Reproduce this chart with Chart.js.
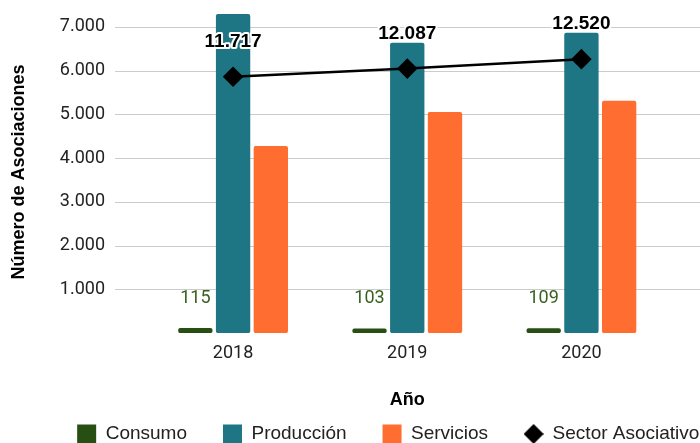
<!DOCTYPE html>
<html>
<head>
<meta charset="utf-8">
<script src="https://cdn.jsdelivr.net/npm/chart.js@4.4.0/dist/chart.umd.min.js"></script>
<style>
  html, body { margin: 0; padding: 0; background: #fff; }
</style>
</head>
<body>
<canvas id="chart" width="700" height="443"></canvas>
<script>
// Data
const years = ["2018", "2019", "2020"];
const consumo = [115, 103, 109];
const produccion = [7290, 6635, 6863];
const servicios = [4275, 5050, 5310];
const sectorAsociativo = [11717, 12087, 12520];
const yTicks = [1000, 2000, 3000, 4000, 5000, 6000, 7000];
const yMax = 7360;

// 7.000 style thousands separator
function fmt(n) {
    return String(n).replace(/\B(?=(\d{3})+(?!\d))/g, ".");
}

// Small diamond used as the legend marker of the line
const diamondIcon = document.createElement("canvas");
diamondIcon.width = 20;
diamondIcon.height = 20;
let dctx = diamondIcon.getContext("2d");
dctx.fillStyle = "#000";
dctx.beginPath();
dctx.moveTo(10, 0);
dctx.lineTo(20, 10);
dctx.lineTo(10, 20);
dctx.lineTo(0, 10);
dctx.closePath();
dctx.fill();

// Gridlines run a bit wider than the plot area, like in the original
const gridLines = {
    id: "gridLines",
    beforeDatasetsDraw(chart) {
        const { ctx, chartArea, scales: { y } } = chart;
        ctx.save();
        ctx.strokeStyle = "#cccccc";
        ctx.lineWidth = 1;
        yTicks.forEach(v => {
            let py = Math.round(y.getPixelForValue(v)) + 0.5;
            ctx.beginPath();
            ctx.moveTo(chartArea.left - 31, py);
            ctx.lineTo(chart.width, py);
            ctx.stroke();
        });
        ctx.restore();
    }
};

// Value labels: consumo above its bars, sector total above the line points
const valueLabels = {
    id: "valueLabels",
    afterDatasetsDraw(chart) {
        const ctx = chart.ctx;
        ctx.save();
        ctx.textAlign = "center";
        ctx.textBaseline = "middle";

        ctx.font = "18px Roboto";
        ctx.fillStyle = "#38611f";
        chart.getDatasetMeta(0).data.forEach((bar, i) => {
            ctx.fillText(fmt(consumo[i]), bar.x, bar.y - 30);
        });

        ctx.font = "bold 19px 'Liberation Sans', Arial, sans-serif";
        ctx.lineJoin = "round";
        chart.getDatasetMeta(3).data.forEach((pt, i) => {
            ctx.lineWidth = 4;
            ctx.strokeStyle = "#ffffff";
            ctx.strokeText(fmt(sectorAsociativo[i]), pt.x, pt.y - 35);
            ctx.fillStyle = "#000000";
            ctx.fillText(fmt(sectorAsociativo[i]), pt.x, pt.y - 35);
        });
        ctx.restore();
    }
};

const barCommon = {
    type: "bar",
    order: 1,
    barPercentage: 0.91,
    categoryPercentage: 0.65,
    borderRadius: 2,
    borderSkipped: false,
    borderWidth: 0,
    yAxisID: "y"
};

new Chart(document.getElementById("chart").getContext("2d"), {
    data: {
        labels: years,
        datasets: [
            { ...barCommon, label: "Consumo", data: consumo, backgroundColor: "#274e13" },
            { ...barCommon, label: "Producción", data: produccion, backgroundColor: "#1e7584" },
            { ...barCommon, label: "Servicios", data: servicios, backgroundColor: "#ff6d31" },
            {
                type: "line",
                order: 0,
                label: "Sector Asociativo",
                data: sectorAsociativo,
                yAxisID: "y2",
                borderColor: "#000000",
                backgroundColor: "#000000",
                borderWidth: 2.5,
                pointStyle: "rectRot",
                pointRadius: 8.5,
                pointHoverRadius: 8.5,
                tension: 0
            }
        ]
    },
    options: {
        responsive: false,
        animation: false,
        devicePixelRatio: 1,
        layout: { padding: { top: 11, right: -35.4, bottom: -10.5, left: 0 } },
        plugins: {
            tooltip: { enabled: false },
            legend: {
                position: "bottom",
                align: "end",
                labels: {
                    usePointStyle: true,
                    boxWidth: 19,
                    boxHeight: 19,
                    padding: 36,
                    color: "#222222",
                    font: { family: "'Liberation Sans', Arial, sans-serif", size: 19 },
                    generateLabels(chart) {
                        let items = Chart.defaults.plugins.legend.labels.generateLabels(chart);
                        items.forEach(it => {
                            if (it.datasetIndex === 3) {
                                it.pointStyle = diamondIcon;
                                it.lineWidth = 0;
                            } else {
                                it.pointStyle = "rect";
                            }
                        });
                        return items.sort((a, b) => a.datasetIndex - b.datasetIndex);
                    }
                }
            }
        },
        scales: {
            x: {
                grid: { display: false },
                border: { display: false },
                ticks: {
                    color: "#222222",
                    padding: 2,
                    font: { family: "Roboto", size: 18 }
                },
                title: {
                    display: true,
                    text: "Año",
                    color: "#000000",
                    padding: { top: 0, bottom: -22 },
                    font: { family: "'Liberation Sans', Arial, sans-serif", size: 18, weight: "bold" }
                },
                afterFit(scale) { scale.height = 55.4; }
            },
            y: {
                position: "left",
                min: 0,
                max: yMax,
                // tick marks are not drawn, their length only pushes the labels left
                grid: { display: false, drawTicks: true, tickLength: 41 },
                border: { display: false },
                afterBuildTicks(scale) {
                    scale.ticks = yTicks.map(v => ({ value: v }));
                },
                ticks: {
                    color: "#222222",
                    padding: 0,
                    font: { family: "Roboto", size: 18 },
                    callback: v => fmt(v)
                },
                title: {
                    display: true,
                    text: "Número de Asociaciones",
                    color: "#000000",
                    padding: { top: 8, bottom: 0 },
                    font: { family: "'Liberation Sans', Arial, sans-serif", size: 18, weight: "bold" }
                },
                afterFit(scale) { scale.width = 146; }
            },
            y2: {
                position: "right",
                min: 0,
                max: yMax * 2,
                grid: { display: false },
                border: { display: false },
                ticks: { display: false },
                afterFit(scale) { scale.width = 66.9; }
            }
        }
    },
    plugins: [gridLines, valueLabels]
});
</script>
</body>
</html>
